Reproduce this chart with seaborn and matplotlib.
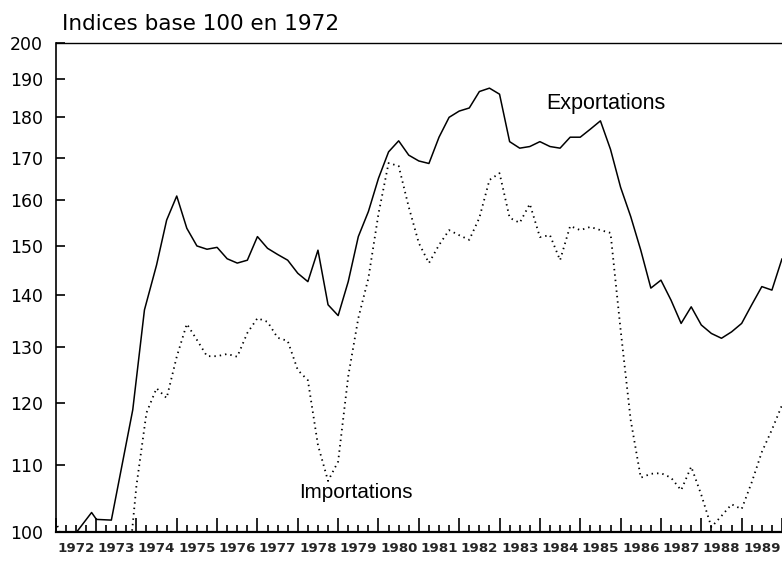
import numpy as np
import pandas as pd
import matplotlib
matplotlib.use("Agg")
import matplotlib.pyplot as plt
import matplotlib.ticker as mticker
import seaborn as sns

# ---------------- data (quarterly indices, base 100 in 1972) ----------------
exp_years = [1972.52, 1972.89, 1973.01, 1973.38, 1973.91, 1974.20,
             1974.50, 1974.75, 1975.00, 1975.25, 1975.50, 1975.75,
             1976.00, 1976.25, 1976.50, 1976.75, 1977.00, 1977.25,
             1977.50, 1977.75, 1978.00, 1978.25, 1978.50, 1978.75,
             1979.00, 1979.25, 1979.50, 1979.75, 1980.00, 1980.25,
             1980.50, 1980.75, 1981.00, 1981.25, 1981.50, 1981.75,
             1982.00, 1982.25, 1982.50, 1982.75, 1983.00, 1983.25,
             1983.50, 1983.75, 1984.00, 1984.25, 1984.50, 1984.75,
             1985.00, 1985.25, 1985.50, 1985.75, 1986.00, 1986.25,
             1986.50, 1986.75, 1987.00, 1987.25, 1987.50, 1987.75,
             1988.00, 1988.25, 1988.50, 1988.75, 1989.00, 1989.25,
             1989.50, 1989.75, 1990.00]
exportations = [100.0, 102.8, 101.8, 101.7, 118.9, 137.0,
                146.0, 155.6, 161.0, 153.8, 150.0, 149.3,
                149.7, 147.3, 146.4, 147.0, 152.0, 149.5,
                148.2, 147.0, 144.3, 142.6, 149.1, 138.0,
                135.9, 142.6, 152.0, 157.5, 165.1, 171.4,
                174.1, 170.6, 169.2, 168.6, 175.0, 180.0,
                181.6, 182.4, 186.7, 187.6, 186.0, 173.9,
                172.3, 172.7, 173.9, 172.7, 172.3, 175.0,
                175.0, 177.0, 179.1, 172.0, 163.0, 156.4,
                149.1, 141.3, 142.9, 138.9, 134.4, 137.6,
                134.1, 132.5, 131.6, 132.8, 134.4, 138.0,
                141.6, 140.9, 147.3]

imp_years = [1972.00, 1972.25, 1972.50, 1972.75, 1973.00, 1973.25,
             1973.50, 1973.75, 1974.00, 1974.25, 1974.50, 1974.75,
             1975.00, 1975.25, 1975.50, 1975.75, 1976.00, 1976.25,
             1976.50, 1976.75, 1977.00, 1977.25, 1977.50, 1977.75,
             1978.00, 1978.25, 1978.50, 1978.75, 1979.00, 1979.25,
             1979.50, 1979.75, 1980.00, 1980.25, 1980.50, 1980.75,
             1981.00, 1981.25, 1981.50, 1981.75, 1982.00, 1982.25,
             1982.50, 1982.75, 1983.00, 1983.25, 1983.50, 1983.75,
             1984.00, 1984.25, 1984.50, 1984.75, 1985.00, 1985.25,
             1985.50, 1985.75, 1986.00, 1986.25, 1986.50, 1986.75,
             1987.00, 1987.25, 1987.50, 1987.75, 1988.00, 1988.25,
             1988.50, 1988.75, 1989.00, 1989.25, 1989.50, 1989.75,
             1990.00]
importations = [101.6, 97.5, 96.0, 95.0, 95.0, 94.0,
                93.0, 92.0, 106.7, 118.4, 122.6, 120.9,
                128.2, 134.3, 131.3, 128.3, 128.3, 128.7,
                128.2, 132.6, 135.4, 134.7, 131.7, 131.1,
                125.8, 124.0, 113.1, 107.5, 110.5, 124.7,
                135.4, 143.3, 157.0, 168.7, 168.0, 158.5,
                150.6, 146.4, 150.2, 153.4, 152.3, 151.3,
                156.1, 164.7, 166.3, 156.1, 155.0, 159.2,
                151.9, 152.3, 147.0, 154.3, 153.4, 154.1,
                153.4, 152.8, 133.2, 117.2, 108.0, 108.6,
                108.7, 108.0, 106.1, 109.7, 105.4, 100.7,
                102.3, 104.0, 103.3, 107.3, 112.0, 115.6,
                119.7]

year_labels = ["1972", "1973", "1974", "1975", "1976", "1977", "1978",
               "1979", "1980", "1981", "1982", "1983", "1984", "1985",
               "1986", "1987", "1988", "1989"]
y_ticks = [100, 110, 120, 130, 140, 150, 160, 170, 180, 190, 200]

title = "Indices base 100 en 1972"
label_exp = "Exportations"
label_imp = "Importations"

# ---------------- figure ----------------
sns.set_style("white")
plt.rcParams["font.family"] = ["Liberation Sans", "DejaVu Sans"]

df_exp = pd.DataFrame({"annee": exp_years, "indice": exportations})
df_imp = pd.DataFrame({"annee": imp_years, "indice": importations})

fig = plt.figure(figsize=(7.82, 5.62), dpi=100)
ax = fig.add_axes([0.0712, 0.0534, 0.9288, 0.8701])

sns.lineplot(data=df_exp, x="annee", y="indice", ax=ax, color="black",
             linewidth=1.1, sort=False, estimator=None)
sns.lineplot(data=df_imp, x="annee", y="indice", ax=ax, color="black",
             linewidth=1.3, linestyle=(0, (0.8, 2.2)), sort=False,
             estimator=None)

ax.set_yscale("log")
ax.set_ylim(100, 200)
ax.set_xlim(1972.0, 1989.925)
ax.yaxis.set_major_locator(mticker.FixedLocator(y_ticks))
ax.yaxis.set_major_formatter(mticker.FixedFormatter([str(v) for v in y_ticks]))
ax.yaxis.set_minor_locator(mticker.NullLocator())

# year boundaries (long ticks) and quarter ticks (short)
n_years = len(year_labels)
ax.set_xticks([1972 + i for i in range(n_years + 1)])
ax.set_xticklabels([])
ax.xaxis.set_minor_locator(mticker.MultipleLocator(0.25))
ax.tick_params(axis="x", which="major", direction="in", length=10,
               width=1.2, color="black", bottom=True, top=False)
ax.tick_params(axis="x", which="minor", direction="in", length=5,
               width=1.2, color="black", bottom=True, top=False)
ax.tick_params(axis="y", which="major", direction="in", length=6.5,
               width=1.2, color="black", pad=9, labelsize=12.5,
               labelcolor="black", left=True, right=False)
for lab in ax.get_yticklabels():
    lab.set_fontfamily("DejaVu Sans")

# year labels centred in each year
sec = ax.secondary_xaxis("bottom")
sec.set_xticks([1972.5 + i for i in range(n_years)])
sec.set_xticklabels(year_labels, fontfamily="DejaVu Sans",
                    fontweight="bold", fontsize=9.6)
sec.tick_params(length=0, pad=7, bottom=True)
sec.spines["bottom"].set_visible(False)

ax.set_xlabel("")
ax.set_ylabel("")

for side in ["left", "bottom", "top"]:
    ax.spines[side].set_visible(True)
    ax.spines[side].set_color("black")
ax.spines["left"].set_linewidth(1.2)
ax.spines["bottom"].set_linewidth(1.6)
ax.spines["top"].set_linewidth(1.0)
ax.spines["right"].set_visible(False)

ax.text(1984.15, 183.6, label_exp, fontsize=15.5, va="center", ha="left",
        color="black")
ax.text(1978.03, 105.7, label_imp, fontsize=14.9, va="center", ha="left",
        color="black")

fig.text(62 / 782, 1 - 30 / 562, title, fontsize=15.5, ha="left",
         va="baseline", color="black", family="DejaVu Sans")

fig.savefig("out.png", dpi=100, facecolor="white")
